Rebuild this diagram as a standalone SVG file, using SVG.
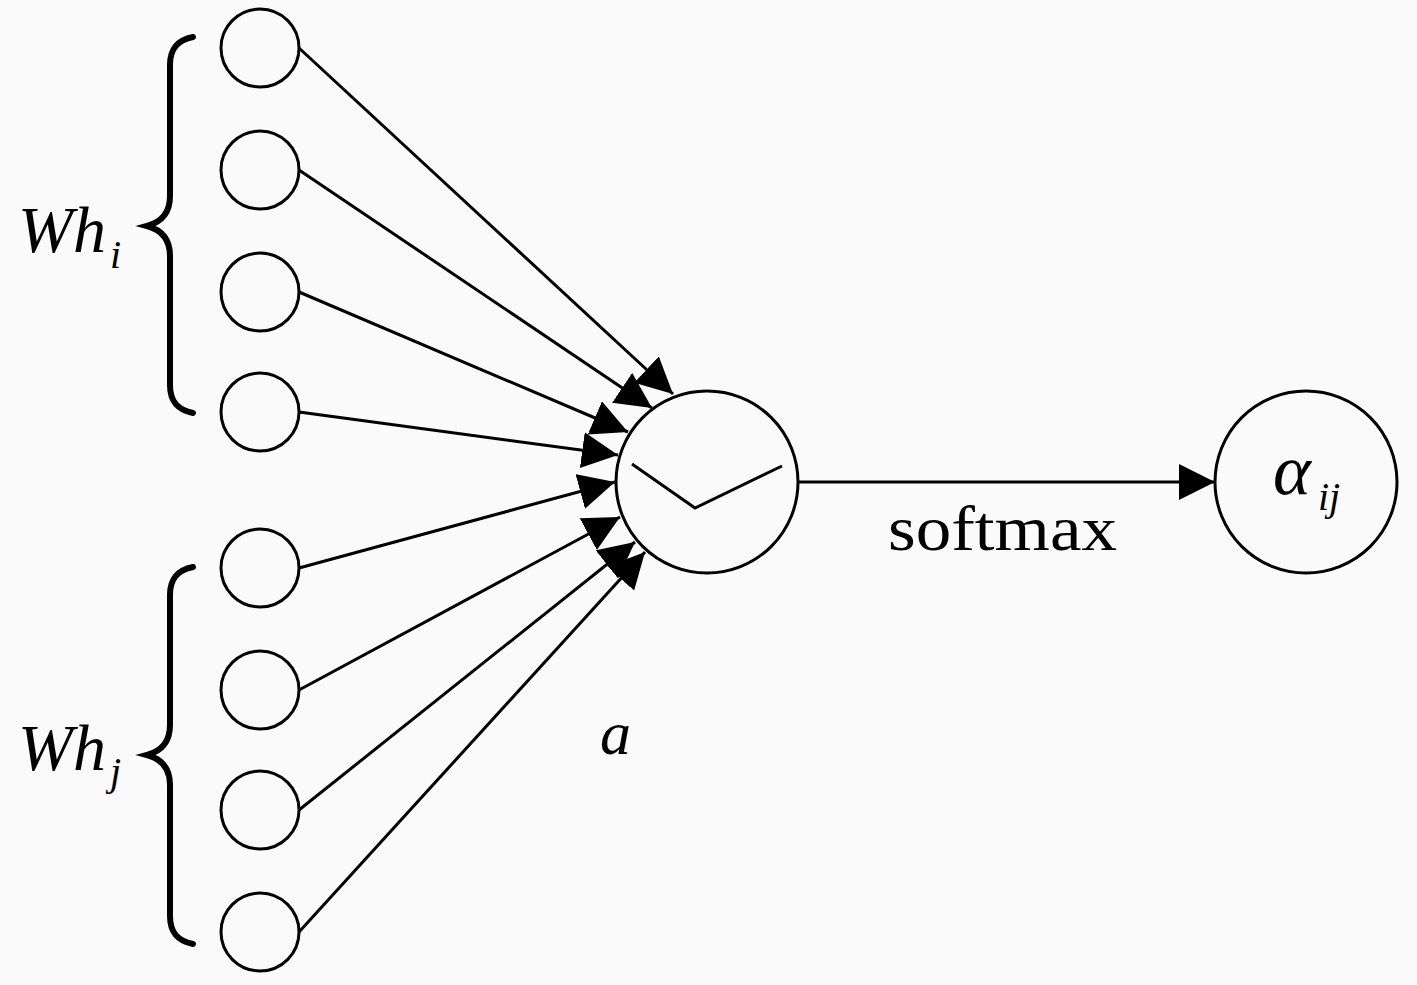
<svg xmlns="http://www.w3.org/2000/svg" width="1417" height="985" viewBox="0 0 1417 985">
<style>
.node{fill:none;stroke:#000;stroke-width:3}
.edge{stroke:#000;stroke-width:3;fill:none}
.brace{fill:none;stroke:#000;stroke-width:6;stroke-linecap:round}
.lbl{font-family:"Liberation Serif",serif;fill:#000}
.it{font-style:italic}
</style>
<defs>
<marker id="arr" markerUnits="userSpaceOnUse" viewBox="0 0 36 36" refX="36" refY="18" markerWidth="36" markerHeight="36" orient="auto">
<path d="M0,0 L36,18 L0,36 z" fill="#000"/>
</marker>
</defs>
<rect width="1417" height="985" fill="#fafafa"/>
<g id="connectors">
<line class="edge" x1="299" y1="48" x2="673" y2="394" marker-end="url(#arr)"/>
<line class="edge" x1="299" y1="170" x2="652" y2="408" marker-end="url(#arr)"/>
<line class="edge" x1="299" y1="292" x2="628" y2="432" marker-end="url(#arr)"/>
<line class="edge" x1="299" y1="412" x2="618" y2="455" marker-end="url(#arr)"/>
<line class="edge" x1="299" y1="568" x2="615" y2="482" marker-end="url(#arr)"/>
<line class="edge" x1="299" y1="690" x2="620" y2="517" marker-end="url(#arr)"/>
<line class="edge" x1="299" y1="810" x2="635" y2="542" marker-end="url(#arr)"/>
<line class="edge" x1="299" y1="932" x2="645" y2="552" marker-end="url(#arr)"/>
<line class="edge" x1="798" y1="482" x2="1215" y2="482" marker-end="url(#arr)"/>
</g>
<g id="in1"><circle class="node" cx="260" cy="48" r="39"/></g>
<g id="in2"><circle class="node" cx="260" cy="170" r="39"/></g>
<g id="in3"><circle class="node" cx="260" cy="292" r="39"/></g>
<g id="in4"><circle class="node" cx="260" cy="412" r="39"/></g>
<g id="in5"><circle class="node" cx="260" cy="568" r="39"/></g>
<g id="in6"><circle class="node" cx="260" cy="690" r="39"/></g>
<g id="in7"><circle class="node" cx="260" cy="810" r="39"/></g>
<g id="in8"><circle class="node" cx="260" cy="932" r="39"/></g>
<g id="attn">
<circle class="node" cx="707" cy="482" r="91"/>
<polyline class="edge" points="632,464 695,508 782,466"/>
</g>
<g id="out">
<circle class="node" cx="1306" cy="482" r="91"/>
<text class="lbl it" x="1273" y="494" font-size="72">α</text>
<text class="lbl it" x="1318" y="510" font-size="40">ij</text>
</g>
<g id="brace-i">
<path class="brace" d="M193,37 C178,40 170,48 170,65 L170,196 C170,212 162,222 147,226 C162,230 170,240 170,256 L170,385 C170,402 178,410 193,413"/>
<text class="lbl it" x="18" y="252" font-size="66">Wh</text>
<text class="lbl it" x="110" y="268" font-size="40">i</text>
</g>
<g id="brace-j">
<path class="brace" d="M193,567 C178,570 170,578 170,595 L170,725 C170,741 162,751 147,755 C162,759 170,769 170,785 L170,916 C170,933 178,941 193,944"/>
<text class="lbl it" x="18" y="770" font-size="66">Wh</text>
<text class="lbl it" x="110" y="785" font-size="40">j</text>
</g>
<g id="labels">
<text class="lbl" x="888" y="550" font-size="64" textLength="229" lengthAdjust="spacingAndGlyphs">softmax</text>
<text class="lbl it" x="600" y="754" font-size="62">a</text>
</g>
</svg>
